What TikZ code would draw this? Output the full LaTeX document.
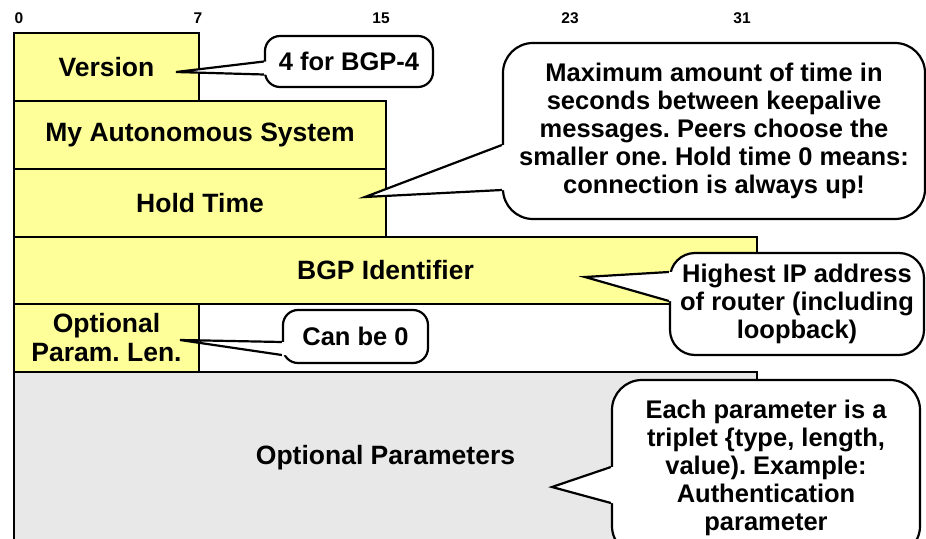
\documentclass[tikz,border=0pt]{standalone}
\usepackage{fontspec}
\setmainfont{Liberation Sans}
\usepackage{xcolor}
\usepackage{tikz}
\usetikzlibrary{positioning}
\usetikzlibrary{calc}
\frenchspacing
\definecolor{fieldyellow}{RGB}{255,255,153}
\definecolor{paramgray}{RGB}{232,232,232}
\tikzstyle{field}=[draw=black,line width=2pt,anchor=north west,inner sep=0pt,align=center,font=\fontsize{26.5}{29}\selectfont\bfseries]
\tikzstyle{bitnum}=[font=\fontsize{15.5}{17}\selectfont\bfseries]
\tikzstyle{callout}=[draw=black,line width=2.2pt,fill=white,rounded corners=15pt,inner sep=0pt,align=center,font=\fontsize{25.5}{28}\selectfont\bfseries]
\tikzstyle{pointer}=[draw=black,line width=2.2pt,line join=miter]

\begin{document}
\begin{tikzpicture}[x=1pt,y=-1pt]
    \useasboundingbox (0,0) rectangle (926,538);
    \clip (0,0) rectangle (926,538);
    % Bit positions on top
    \foreach \x/\bit in {19/0, 198/7, 381/15, 570/23, 742/31}
        \node[bitnum] (bit\bit) at (\x,18) {\bit};

    % Then the header fields
    \foreach \pos/\fw/\fh/\name/\col/\label in {{(13,32)/185/68/version/fieldyellow/Version},
    {(13,100)/372/68/myas/fieldyellow/My Autonomous System},
    {(13,168)/372/68/holdtime/fieldyellow/Hold Time},
    {(13,236)/743/67/bgpid/fieldyellow/BGP Identifier},
    {(13,303)/185/68/optlen/fieldyellow/{Optional\\Param. Len.}},
    {(13,371)/743/172/optparams/paramgray/Optional Parameters}}
        \node[field, fill=\col, minimum width=\fw, minimum height=\fh] (\name) at \pos {\label};

    % Callouts
    \node[callout, minimum width=168, minimum height=51] (vercall) at (349,61.5) {4 for BGP-4};
    \node[callout, rounded corners=30pt, minimum width=422, minimum height=176] (holdcall) at (714,131)
        {Maximum amount of time in\\seconds between keepalive\\messages. Peers choose the\\smaller one. Hold time 0 means:\\connection is always up!};
    \node[callout, rounded corners=25pt, minimum width=254, minimum height=102] (ipcall) at (797,304)
        {Highest IP address\\of router (including\\loopback)};
    \node[callout, minimum width=145, minimum height=53] (lencall) at (355.5,336.5) {Can be 0};
    \node[callout, rounded corners=30pt, minimum width=308, minimum height=176] (paramcall) at (766,468)
        {Each parameter is a\\triplet \{type, length,\\value). Example:\\Authentication\\parameter};

    % Pointers from the callouts to the fields
    \foreach \call/\tx/\ty/\ua/\ub in {vercall/176/72/0/13, holdcall/365/197/14/59, ipcall/585/277/-32/-3,
    lencall/180/340/5.5/18.5, paramcall/552/487/-1/35}
    {
        \coordinate (\call-tip) at (\tx,\ty);
        \fill[white] ($(\call.west)+(-1,\ua)$) -- (\call-tip) -- ($(\call.west)+(-1,\ub)$)
            -- ($(\call.west)+(8,\ub)$) -- ($(\call.west)+(8,\ua)$) -- cycle;
        \path[pointer] ($(\call.west)+(0,\ua)$) -- (\call-tip) -- ($(\call.west)+(0,\ub)$);
    }
\end{tikzpicture}
\end{document}
